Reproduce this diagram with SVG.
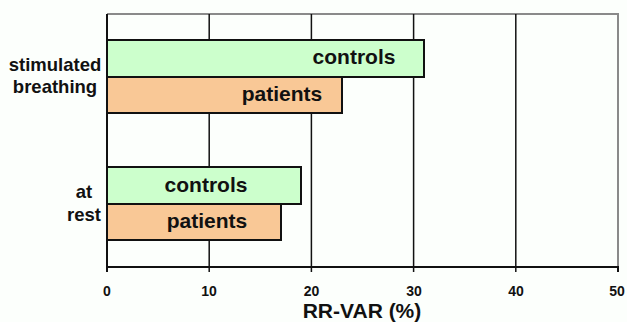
<svg xmlns="http://www.w3.org/2000/svg" width="627" height="322" viewBox="0 0 627 322">
<style>
text{font-family:"Liberation Sans",Arial,sans-serif;font-weight:bold;fill:#111}
.grid{stroke:#111;stroke-width:1.5}
.frame{stroke:#8a8a8a;stroke-width:2;fill:none}
.axis{stroke:#111;stroke-width:2}
.ctrl{fill:#ccffcc;stroke:#111;stroke-width:2}
.pat{fill:#f9c896;stroke:#111;stroke-width:2}
.bl{font-size:21px;text-anchor:middle}
.cat{font-size:18.5px;text-anchor:middle}
.tick{font-size:14px;text-anchor:middle}
</style>
<rect width="627" height="322" fill="#fcfffc"/>
<g id="plot">
<polyline class="frame" points="107,14 618,14 618,267"/>
<line class="grid" x1="209.2" y1="14" x2="209.2" y2="272"/>
<line class="grid" x1="311.4" y1="14" x2="311.4" y2="272"/>
<line class="grid" x1="413.6" y1="14" x2="413.6" y2="272"/>
<line class="grid" x1="515.8" y1="14" x2="515.8" y2="272"/>
<line class="axis" x1="618" y1="267" x2="618" y2="272"/>
<line class="axis" x1="107" y1="14" x2="107" y2="272"/>
<line class="axis" x1="106" y1="267" x2="619" y2="267"/>
</g>
<g id="stim-controls">
<rect class="ctrl" x="107" y="40" width="317" height="37"/>
<text class="bl" x="354" y="64">controls</text>
</g>
<g id="stim-patients">
<rect class="pat" x="107" y="77" width="235" height="36"/>
<text class="bl" x="282" y="101">patients</text>
</g>
<g id="rest-controls">
<rect class="ctrl" x="107" y="167" width="194" height="37"/>
<text class="bl" x="206" y="192">controls</text>
</g>
<g id="rest-patients">
<rect class="pat" x="107" y="204" width="174" height="36"/>
<text class="bl" x="207" y="228">patients</text>
</g>
<g id="labels">
<text class="cat" x="55" y="71">stimulated</text>
<text class="cat" x="55" y="93">breathing</text>
<text class="cat" x="84" y="198">at</text>
<text class="cat" x="84" y="221">rest</text>
<text class="tick" x="107" y="296">0</text>
<text class="tick" x="209" y="296">10</text>
<text class="tick" x="311.5" y="296">20</text>
<text class="tick" x="414" y="296">30</text>
<text class="tick" x="516" y="296">40</text>
<text class="tick" x="617" y="296">50</text>
<text x="362" y="318" style="font-size:21px;text-anchor:middle">RR-VAR (%)</text>
</g>
</svg>
